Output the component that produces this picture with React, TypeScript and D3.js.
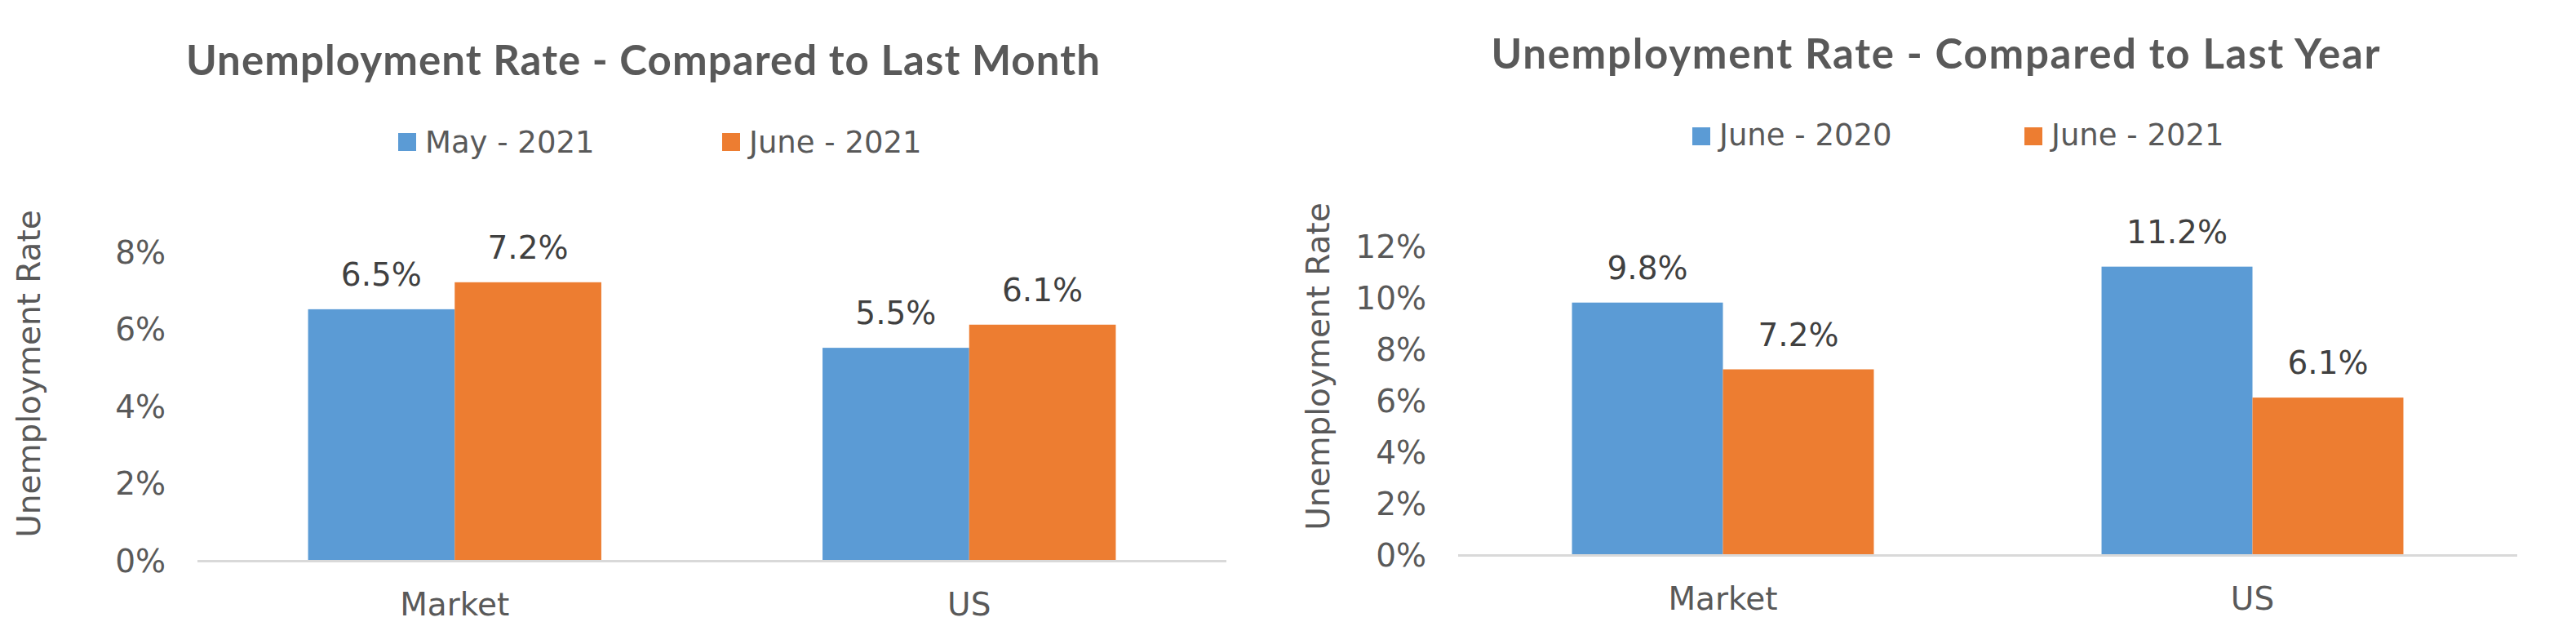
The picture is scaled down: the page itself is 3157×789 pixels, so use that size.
import React from "react";
import * as d3 from "d3";

// ---- Data ----
const categories = ["Market", "US"];

const monthTitle = "Unemployment Rate - Compared to Last Month";
const monthSeriesNames = ["May - 2021", "June - 2021"];
const may2021 = [6.5, 5.5];
const june2021 = [7.2, 6.1];
const monthTicks = [0, 2, 4, 6, 8];

const yearTitle = "Unemployment Rate - Compared to Last Year";
const yearSeriesNames = ["June - 2020", "June - 2021"];
const june2020 = [9.8, 11.2];
const yearTicks = [0, 2, 4, 6, 8, 10, 12];

const yAxisLabel = "Unemployment Rate";

// ---- Styles ----
const COLORS = ["#5B9BD5", "#ED7D31"];
const TEXT = "#595959";
const LABEL = "#404040";
const AXIS = "#D9D9D9";
const REG = "'DejaVu Sans', sans-serif";
const BOLD = "Lato, 'DejaVu Sans', sans-serif";

type Layout = {
  titleX: number; titleY: number; titleW: number;
  legendX: number[]; legendY: number; legendTextY: number;
  yLabelX: number; yLabelY: number;
  plotX0: number; plotX1: number; y0: number; yTop: number;
  tickRight: number; catY: number;
};

function BarChart({ title, seriesNames, series, ticks, layout }: {
  title: string; seriesNames: string[]; series: number[][]; ticks: number[]; layout: Layout;
}) {
  const L = layout;
  const yMax = ticks[ticks.length - 1];
  const y = d3.scaleLinear().domain([0, yMax]).range([L.y0, L.yTop]);
  const x0 = d3.scaleBand<string>().domain(categories).range([L.plotX0, L.plotX1])
    .paddingInner(0.43).paddingOuter(0.215);
  const x1 = d3.scaleBand<number>().domain(series.map((_, i) => i)).range([0, x0.bandwidth()]).padding(0);
  const fmt = (v: number) => `${v}%`;
  return (
    <g>
      <text x={L.titleX} y={L.titleY} textAnchor="middle" fontFamily={BOLD} fontWeight={700}
        fontSize={51} fill={TEXT} textLength={L.titleW} lengthAdjust="spacing">{title}</text>
      {seriesNames.map((n, i) => (
        <g key={n}>
          <rect x={L.legendX[i]} y={L.legendY} width={22} height={22} fill={COLORS[i]} />
          <text x={L.legendX[i] + 33} y={L.legendTextY} fontFamily={REG} fontSize={37} fill={TEXT}>{n}</text>
        </g>
      ))}
      <text transform={`translate(${L.yLabelX},${L.yLabelY}) rotate(-90)`} textAnchor="middle"
        dominantBaseline="central" fontFamily={REG} fontSize={39} fill={TEXT}>{yAxisLabel}</text>
      {ticks.map(t => (
        <text key={t} x={L.tickRight} y={y(t) + 14.5} textAnchor="end" fontFamily={REG}
          fontSize={39} fill={TEXT}>{fmt(t)}</text>
      ))}
      {categories.map((c, ci) => (
        <g key={c}>
          {series.map((s, si) => {
            const bx = (x0(c) as number) + (x1(si) as number);
            const w = x1.bandwidth();
            return (
              <g key={si}>
                <rect x={bx} y={y(s[ci])} width={w} height={L.y0 - y(s[ci])} fill={COLORS[si]} />
                <text x={bx + w / 2} y={y(s[ci]) - 29} textAnchor="middle" fontFamily={REG}
                  fontSize={39} fill={LABEL}>{`${s[ci].toFixed(1)}%`}</text>
              </g>
            );
          })}
          <text x={(x0(c) as number) + x0.bandwidth() / 2} y={L.catY} textAnchor="middle"
            fontFamily={REG} fontSize={39} fill={TEXT}>{c}</text>
        </g>
      ))}
      <line x1={L.plotX0} x2={L.plotX1} y1={L.y0 + 1.5} y2={L.y0 + 1.5} stroke={AXIS} strokeWidth={3} />
    </g>
  );
}

const leftLayout: Layout = {
  titleX: 788, titleY: 92, titleW: 1120,
  legendX: [488, 885], legendY: 163, legendTextY: 187,
  yLabelX: 35, yLabelY: 458,
  plotX0: 242, plotX1: 1503, y0: 686, yTop: 308,
  tickRight: 203, catY: 754,
};

const rightLayout: Layout = {
  titleX: 2372, titleY: 84, titleW: 1089,
  legendX: [2074, 2481], legendY: 156, legendTextY: 178,
  yLabelX: 1615, yLabelY: 449,
  plotX0: 1787, plotX1: 3085, y0: 679, yTop: 301.5,
  tickRight: 1748, catY: 747,
};

export default function App() {
  return (
    <svg width={3157} height={789} style={{ position: "absolute", left: 0, top: 0, display: "block", background: "#fff" }}>
      <rect width={3157} height={789} fill="#fff" />
      <BarChart title={monthTitle} seriesNames={monthSeriesNames} series={[may2021, june2021]}
        ticks={monthTicks} layout={leftLayout} />
      <BarChart title={yearTitle} seriesNames={yearSeriesNames} series={[june2020, june2021]}
        ticks={yearTicks} layout={rightLayout} />
    </svg>
  );
}
